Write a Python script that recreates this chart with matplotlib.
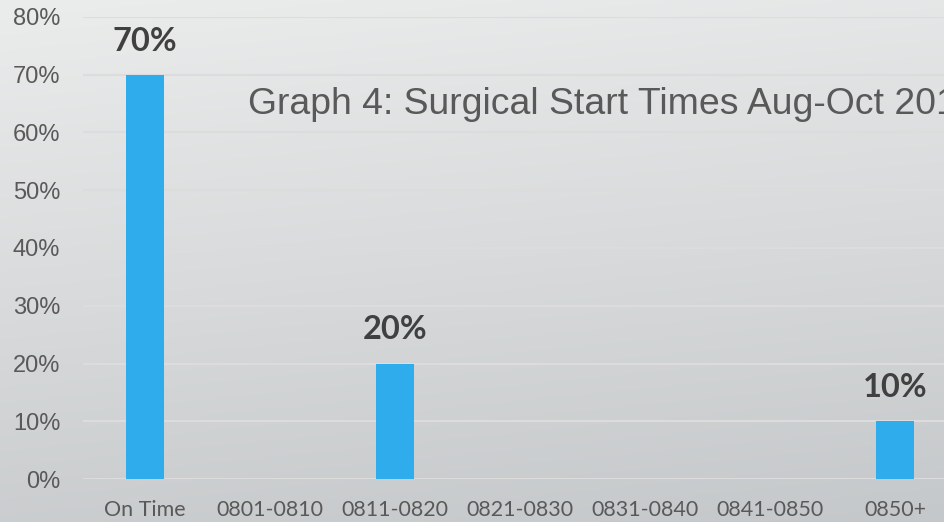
import numpy as np
import matplotlib
matplotlib.use("Agg")
import matplotlib.pyplot as plt
from matplotlib.colors import LinearSegmentedColormap

categories = ["On Time", "0801-0810", "0811-0820", "0821-0830", "0831-0840", "0841-0850", "0850+"]
values = [70, 0, 20, 0, 0, 0, 10]
yticks = [0, 10, 20, 30, 40, 50, 60, 70, 80]
title = "Graph 4: Surgical Start Times Aug-Oct 201"

W, H = 944, 522
fig = plt.figure(figsize=(W / 100, H / 100), dpi=100)

# background gradient
bg = fig.add_axes([0, 0, 1, 1], zorder=0)
cmap = LinearSegmentedColormap.from_list("bg", ["#EBECEC", "#C5C8CA"])
yy, xx = np.mgrid[0:1:200j, 0:1:200j]
grad = 0.85 * yy + 0.15 * xx
bg.imshow(grad, cmap=cmap, aspect="auto", extent=[0, 1, 1, 0], vmin=0, vmax=1)
bg.set_xlim(0, 1); bg.set_ylim(1, 0)
bg.axis("off")

left = 82.5 / W
bottom = (H - 479) / H
height = (479 - 17) / H
width = 875 / W
ax = fig.add_axes([left, bottom, width, height], zorder=1)
ax.patch.set_alpha(0)

x = np.arange(len(categories))
ax.bar(x, values, width=0.31, color="#2FACEB", zorder=3)
for xi, v in zip(x, values):
    if v > 0:
        ax.text(xi, v + 3.3, f"{v}%", ha="center", va="bottom", fontsize=23.5,
                fontweight="bold", color="#404040", family="Lato")

ax.set_xlim(-0.5, len(categories) - 0.5)
ax.set_ylim(0, 80)
ax.set_yticks(yticks)
ax.set_yticklabels([f"{t}%" for t in yticks], fontsize=17, color="#595959",
                   family="Liberation Sans")
ax.set_xticks(x)
ax.set_xticklabels(categories, fontsize=15.5, color="#595959", family="Lato")
ax.tick_params(length=0)
ax.tick_params(axis="y", pad=16)
ax.tick_params(axis="x", pad=15)
ax.grid(axis="y", color="#DCDCDC", linewidth=1.5, zorder=1)
for s in ax.spines.values():
    s.set_visible(False)

fig.text(248 / W, 1 - 104.5 / H, title, ha="left", va="center", fontsize=26.9,
         color="#595959", family="Liberation Sans")

fig.savefig("out.png", dpi=100)
